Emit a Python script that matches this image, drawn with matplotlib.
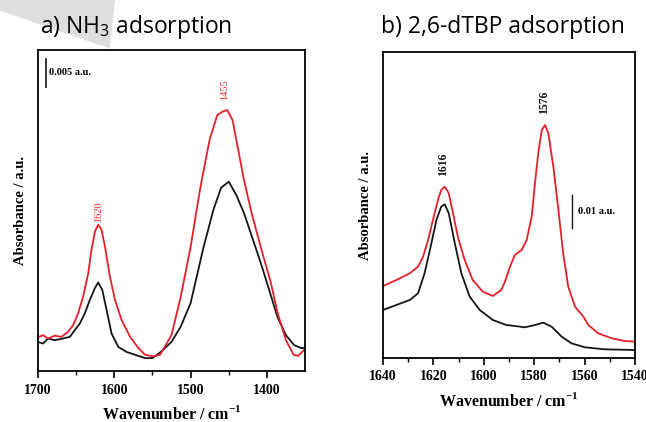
import matplotlib
matplotlib.use("Agg")
import matplotlib.pyplot as plt
from matplotlib.patches import Polygon

plt.rcParams['mathtext.fontset'] = 'custom'
plt.rcParams['mathtext.rm'] = 'Open Sans'
plt.rcParams['mathtext.bf'] = 'Liberation Serif:bold'

# a) NH3 adsorption (wavenumber, absorbance in a.u.)
nh3_wn_red = [1700, 1693.4, 1686.8, 1678, 1669.3, 1660.5, 1653.9, 1647.4, 1640.8, 1634.2,
              1629.9, 1625.4, 1621.1, 1616.7, 1612.2, 1605.7, 1599.1, 1590.4, 1579.3, 1568.4,
              1559.6, 1548.7, 1540, 1525, 1513, 1500, 1487, 1475, 1465, 1458, 1452, 1445,
              1430, 1420, 1408, 1395, 1386, 1375, 1365, 1359, 1350]
nh3_red = [0.0060, 0.0064, 0.0058, 0.0063, 0.0061, 0.0070, 0.0082, 0.0103, 0.0133, 0.0174,
           0.0216, 0.0249, 0.0261, 0.0252, 0.0222, 0.0168, 0.0127, 0.0091, 0.0061, 0.0041,
           0.0029, 0.0026, 0.0029, 0.0064, 0.0132, 0.0221, 0.0329, 0.0413, 0.0457, 0.0463,
           0.0466, 0.0448, 0.0341, 0.0282, 0.0221, 0.0159, 0.0104, 0.0055, 0.0029, 0.0027,
           0.0039]
nh3_wn_blk = [1700, 1693.4, 1686.8, 1678, 1667.1, 1658.3, 1651.7, 1645.1, 1638.6, 1632,
              1625.4, 1621.1, 1615.8, 1610.1, 1603.6, 1594.7, 1583.8, 1572.8, 1559.6, 1550,
              1539, 1525, 1513, 1500, 1483, 1470, 1460, 1450, 1440, 1430, 1408, 1395, 1386,
              1375, 1364, 1355, 1350]
nh3_blk = [0.0052, 0.0049, 0.0058, 0.0055, 0.0058, 0.0061, 0.0073, 0.0085, 0.0103, 0.0127,
           0.0148, 0.0158, 0.0145, 0.0109, 0.0067, 0.0043, 0.0034, 0.0029, 0.0023, 0.0023,
           0.0034, 0.0052, 0.0079, 0.0121, 0.0221, 0.0288, 0.0327, 0.0338, 0.0314, 0.0282,
           0.0193, 0.0136, 0.0096, 0.0064, 0.0046, 0.0041, 0.0041]
nh3_peaks = [1620, 1455]
nh3_peak_y = [0.0284, 0.0502]

# b) 2,6-dTBP adsorption
tbp_wn_red = [1640, 1634.7, 1629.4, 1626.1, 1624.1, 1622.1, 1620.2, 1618.2, 1616.9, 1615.5,
              1613.9, 1612.2, 1610.3, 1607.6, 1604.4, 1600.4, 1596.4, 1593.1, 1591.6, 1589.6,
              1587.7, 1585, 1583, 1581, 1579.7, 1578.4, 1577, 1575.7, 1574.4, 1572.4, 1570.4,
              1568.5, 1566.5, 1563.8, 1560.5, 1558.5, 1554.6, 1549.2, 1544, 1540]
tbp_red = [0.0216, 0.0234, 0.0254, 0.0274, 0.0304, 0.0354, 0.0414, 0.0474, 0.0504, 0.0514,
           0.0494, 0.0434, 0.0364, 0.0294, 0.0234, 0.0199, 0.0186, 0.0204, 0.0229, 0.0274,
           0.0309, 0.0324, 0.0354, 0.0424, 0.0524, 0.0614, 0.0684, 0.0699, 0.0674, 0.0574,
           0.0444, 0.0314, 0.0214, 0.0154, 0.0124, 0.0099, 0.0074, 0.0059, 0.0051, 0.0049]
tbp_wn_blk = [1640, 1634.7, 1629.4, 1626.1, 1623.5, 1620.8, 1618.8, 1616.9, 1615.5, 1613.9,
              1611.5, 1608.9, 1605.6, 1601.6, 1596.4, 1591.1, 1587.6, 1583.7, 1579.7, 1576.4,
              1573.1, 1569.1, 1565.2, 1559.8, 1551.9, 1540]
tbp_blk = [0.0144, 0.0159, 0.0174, 0.0194, 0.0254, 0.0344, 0.0414, 0.0454, 0.0461, 0.0434,
           0.0344, 0.0254, 0.0184, 0.0144, 0.0114, 0.0099, 0.0096, 0.0092, 0.0099, 0.0106,
           0.0094, 0.0064, 0.0044, 0.0032, 0.0026, 0.0024]
tbp_peaks = [1616, 1576]
tbp_peak_y = [0.0582, 0.0768]

RED = '#e5202b'
BLK = '#151515'
SERIF = 'Liberation Serif'

fig = plt.figure(figsize=(6.46, 4.22), dpi=100)

# faint grey artefact in the top-left corner
fig.patches.append(Polygon([(0, 1), (0.178, 1), (0.17, 0.885), (0.0, 0.975)],
                           closed=True, transform=fig.transFigure,
                           facecolor='#dedede', edgecolor='none', zorder=0))

ax1 = fig.add_axes([38 / 646, 1 - 371 / 422, 267 / 646, 321 / 422])
ax2 = fig.add_axes([383 / 646, 1 - 358 / 422, 252 / 646, 306 / 422])

ax1.plot(nh3_wn_blk, nh3_blk, color=BLK, lw=1.3)
ax1.plot(nh3_wn_red, nh3_red, color=RED, lw=1.3)
ax1.set_xlim(1700, 1350)
ax1.set_ylim(0, 0.0573)
ax1.set_xticks([1700, 1600, 1500, 1400])
ax1.set_xticks([1650, 1550, 1450], minor=True)
for wn, y in zip(nh3_peaks, nh3_peak_y):
    ax1.text(wn, y, str(wn), rotation=90, color=RED, fontsize=7.5, family=SERIF,
             ha='center', va='center')
ax1.plot([1689.5, 1689.5], [0.0507, 0.0557], color=BLK, lw=1.2)
ax1.text(1685, 0.0532, '0.005 a.u.', fontsize=7.5, family=SERIF, weight='bold',
         ha='left', va='center')

ax2.plot(tbp_wn_blk, tbp_blk, color=BLK, lw=1.3)
ax2.plot(tbp_wn_red, tbp_red, color=RED, lw=1.3)
ax2.set_xlim(1640, 1540)
ax2.set_ylim(0, 0.0918)
ax2.set_xticks([1640, 1620, 1600, 1580, 1560, 1540])
ax2.set_xticks([1630, 1610, 1590, 1570, 1550], minor=True)
for wn, y in zip(tbp_peaks, tbp_peak_y):
    ax2.text(wn, y, str(wn), rotation=90, color=BLK, fontsize=8.5, family=SERIF,
             weight='bold', ha='center', va='center')
ax2.plot([1565, 1565], [0.039, 0.049], color=BLK, lw=1.0)
ax2.text(1562.5, 0.044, '0.01 a.u.', fontsize=7.5, family=SERIF, weight='bold',
         ha='left', va='center')

for ax in (ax1, ax2):
    ax.set_yticks([])
    for s in ax.spines.values():
        s.set_linewidth(1.3)
    ax.tick_params(axis='x', which='major', direction='out', length=5, width=1.2,
                   labelsize=10, pad=4)
    ax.tick_params(axis='x', which='minor', direction='out', length=3, width=1.0)
    for lab in ax.get_xticklabels():
        lab.set_family(SERIF)
        lab.set_weight('bold')
    ax.set_xlabel('Wavenumber / cm$^{\\mathbf{-1}}$', fontsize=11.5, family=SERIF,
                  weight='bold', labelpad=6)
    ax.set_ylabel('Absorbance / a.u.', fontsize=10.5, family=SERIF, weight='bold',
                  labelpad=8)

fig.text(40 / 646, 1 - 33 / 422, 'a) NH$_\\mathrm{3}$ adsorption', fontsize=16.5,
         family='Open Sans', ha='left', va='baseline')
fig.text(381 / 646, 1 - 33 / 422, 'b) 2,6-dTBP adsorption', fontsize=16.5,
         family='Open Sans', ha='left', va='baseline')

fig.savefig('out.png', dpi=100)
